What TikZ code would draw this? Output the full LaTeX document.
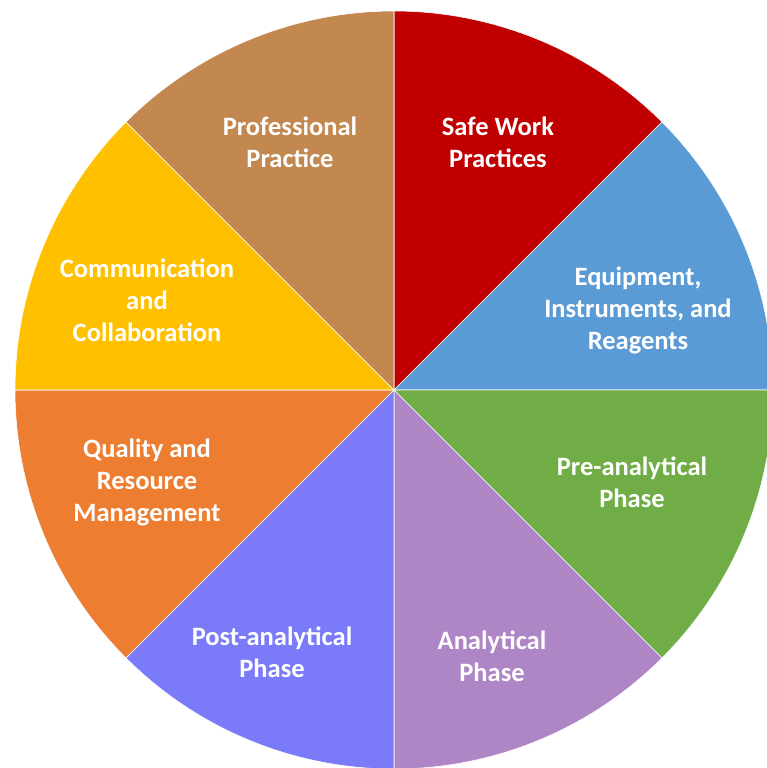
\documentclass[tikz,border=0pt]{standalone}
\usepackage{fontspec}
\setmainfont{Carlito}
\usepackage{tikz}

\definecolor{wheelred}{HTML}{C00000}
\definecolor{wheelblue}{HTML}{5B9BD5}
\definecolor{wheelgreen}{HTML}{70AD47}
\definecolor{wheelpurple}{HTML}{AE86C6}
\definecolor{wheelviolet}{HTML}{7B7BFA}
\definecolor{wheelorange}{HTML}{ED7D31}
\definecolor{wheelgold}{HTML}{FFC000}
\definecolor{wheelbrown}{HTML}{C3884F}

\begin{document}
\begin{tikzpicture}[x=1pt,y=1pt,
	wedge/.style={draw=white,line width=0.6pt},
	label node/.style={text=white,align=center,font=\fontsize{26.5}{32}\selectfont\bfseries}]

	\useasboundingbox (-394,-378) rectangle (373,390);
	\clip (-394,-378) rectangle (373,390);

	% eight equal wedges, clockwise from the top
	\foreach \start/\col in {45/wheelred,0/wheelblue,-45/wheelgreen,-90/wheelpurple,
		-135/wheelviolet,180/wheelorange,135/wheelgold,90/wheelbrown}
		\fill[\col,wedge] (0,0) -- (\start:379) arc[start angle=\start,delta angle=45,radius=379] -- cycle;

	\node[label node] (safe) at (104,248) {Safe Work\\Practices};
	\node[label node] (equip) at (244,80) {Equipment,\\Instruments, and\\Reagents};
	\node[label node] (pre) at (238,-92) {Pre-analytical\\Phase};
	\node[label node] (ana) at (98,-266) {Analytical\\Phase};
	\node[label node] (post) at (-122,-262) {Post-analytical\\Phase};
	\node[label node] (quality) at (-247,-92) {Quality and\\Resource\\Management};
	\node[label node] (comm) at (-247,90) {Communication\\and\\Collaboration};
	\node[label node] (prof) at (-104,248) {Professional\\Practice};
\end{tikzpicture}
\end{document}
